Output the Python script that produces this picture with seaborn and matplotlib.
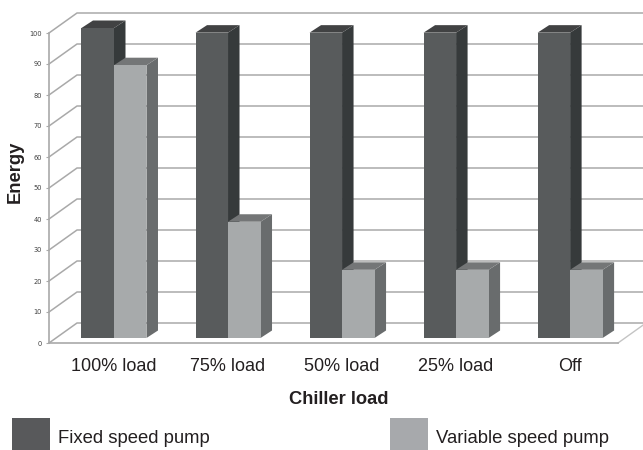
import pandas as pd
import matplotlib
matplotlib.use('Agg')
import matplotlib.pyplot as plt
import seaborn as sns
from matplotlib.patches import Patch, Polygon
from matplotlib.lines import Line2D
from matplotlib.transforms import Affine2D, IdentityTransform

loads = ['100% load', '75% load', '50% load', '25% load', 'Off']
fixed_speed = [100, 98.5, 98.5, 98.5, 98.5]
variable_speed = [88, 37.5, 22, 22, 22]
y_ticks = list(range(0, 101, 10))

front_cols = ['#585b5c', '#a7aaab']
side_cols = ['#363a3b', '#696c6d']
top_cols = ['#414243', '#747677']
line_col = '#a9a9a9'

df = pd.DataFrame({'load': loads * 2,
                   'energy': fixed_speed + variable_speed,
                   'pump': ['Fixed speed pump'] * 5 + ['Variable speed pump'] * 5})

sns.set_theme(style='white')
plt.rcParams['font.family'] = ['Liberation Sans', 'DejaVu Sans']

W, H = 643, 450
fig = plt.figure(figsize=(W / 100, H / 100), dpi=100, facecolor='white')
ax = fig.add_axes([49 / W, (H - 343) / H, (618 - 49) / W, 310 / H])

sns.barplot(data=df, x='load', y='energy', hue='pump', palette=front_cols,
            width=0.57, gap=0, saturation=1, legend=False, ax=ax)
ax.set_xlim(-0.57, 4.42)
ax.set_ylim(0, 100)

# %% fake 3d: back wall and floor
wall_dx, wall_dy = 28, 20
fig.canvas.draw()
x0 = ax.get_xlim()[0]
x1 = ax.get_xlim()[1]
for v in y_ticks:
    px, py = ax.transData.transform((x0, v))
    qx, qy = ax.transData.transform((x1, v))
    ax.add_line(Line2D([px, px + wall_dx, qx + wall_dx], [py, py + wall_dy, qy + wall_dy],
                       transform=IdentityTransform(), color=line_col, lw=1.1,
                       clip_on=False, zorder=1))
px, py = ax.transData.transform((x1, 0))
ax.add_line(Line2D([px, px + wall_dx], [py, py + wall_dy], transform=IdentityTransform(),
                   color='#c4c4c4', lw=1.0, clip_on=False, zorder=1))

# %% fake 3d: bars lifted off the front axis with side and top faces
lift = 5
bar_dx, bar_dy = 11.5, 7.5
shift = Affine2D().translate(0, lift)
for n, cont in enumerate(ax.containers):
    for bar in cont:
        bar.set_linewidth(0)
        bar.set_zorder(3 + 2 * n)
        (xa, ya), (xb, yb) = ax.transData.transform([(bar.get_x(), 0),
                                                     (bar.get_x() + bar.get_width(), bar.get_height())])
        ya, yb = ya + lift, yb + lift
        side = Polygon([(xb, ya), (xb + bar_dx, ya + bar_dy), (xb + bar_dx, yb + bar_dy), (xb, yb)],
                       transform=IdentityTransform(), fc=side_cols[n], lw=0, zorder=2 + 2 * n, clip_on=False)
        top = Polygon([(xa, yb), (xa + bar_dx, yb + bar_dy), (xb + bar_dx, yb + bar_dy), (xb, yb)],
                      transform=IdentityTransform(), fc=top_cols[n], lw=0, zorder=2 + 2 * n, clip_on=False)
        ax.add_patch(side)
        ax.add_patch(top)
        bar.set_transform(ax.transData + shift)
        bar.set_clip_on(False)

# %% axes
for s in ['top', 'right']:
    ax.spines[s].set_visible(False)
for s in ['left', 'bottom']:
    ax.spines[s].set_color(line_col)
    ax.spines[s].set_linewidth(1.2)
    ax.spines[s].set_zorder(8)

ax.set_yticks(y_ticks)
ax.set_yticklabels(y_ticks, fontsize=4.8, color='#404040', family='DejaVu Sans')
ax.tick_params(axis='y', left=True, length=2, width=0.8, color=line_col, pad=3)
ax.tick_params(axis='x', bottom=False, labelsize=13, labelcolor='#231f20', pad=5)
ax.set_ylabel('Energy', fontsize=13.2, fontweight='bold', color='#231f20')
ax.yaxis.set_label_coords(-25 / (618 - 49), (343 - 172) / 310)
ax.set_xlabel('Chiller load', fontsize=13.2, fontweight='bold', color='#231f20')
ax.xaxis.set_label_coords((339 - 49) / (618 - 49), -57 / 310, transform=ax.transAxes)
ax.xaxis.label.set_va('center')

handles = [Patch(fc='#58595b', lw=0), Patch(fc='#a7a9ac', lw=0)]
fig.legend(handles, ['Fixed speed pump', 'Variable speed pump'], ncol=2, frameon=False,
           loc='lower left', bbox_to_anchor=(12 / W, -7 / H), borderaxespad=0, borderpad=0,
           prop={'size': 13.3}, labelcolor='#231f20', handlelength=2.05, handleheight=2.85,
           handletextpad=0.45, columnspacing=9.75)

plt.savefig('out.png', dpi=100)
